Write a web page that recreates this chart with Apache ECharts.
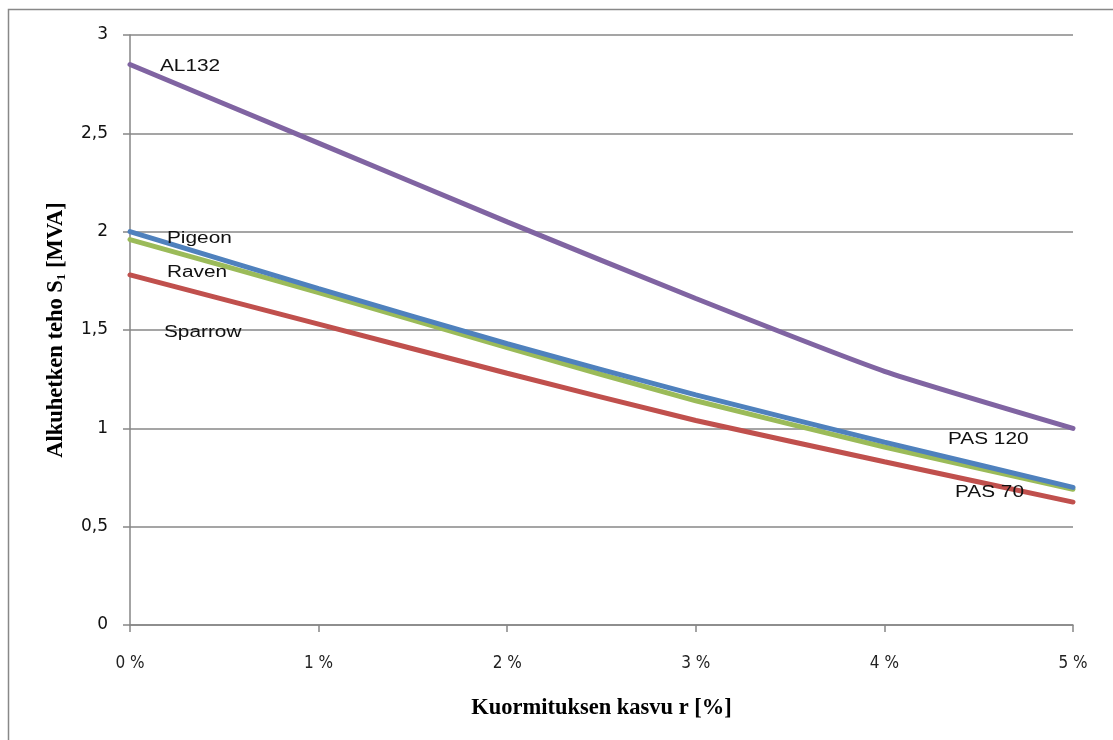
<!DOCTYPE html>
<html>
<head>
<meta charset="utf-8">
<script src="https://cdn.jsdelivr.net/npm/echarts@6/dist/echarts.min.js"></script>
<style>html,body{margin:0;padding:0;background:#fff}#c{width:1113px;height:740px}</style>
</head>
<body>
<div id="c"></div>
<script>
const categories = ['0 %', '1 %', '2 %', '3 %', '4 %', '5 %'];
const al132 = [2.85, 2.45, 2.05, 1.66, 1.29, 1.00];
const pigeon = [2.00, 1.71, 1.43, 1.17, 0.93, 0.70];
const raven = [1.96, 1.69, 1.41, 1.14, 0.905, 0.69];
const sparrow = [1.78, 1.53, 1.28, 1.04, 0.83, 0.625];
const yTicks = [0, 0.5, 1, 1.5, 2, 2.5, 3];

const chart = echarts.init(document.getElementById('c'));
const lineSeries = (name, data, color) => ({
  name, type: 'line', data, smooth: 0.15, symbol: 'none',
  lineStyle: { color, width: 5, cap: 'round' }, z: 3
});
const label = (text, x, y) => ({
  type: 'text', x, y, scaleX: 1.3, z: 10, silent: true,
  style: { text, font: '16px "Liberation Sans"', fill: '#111', verticalAlign: 'middle', align: 'left' }
});
chart.setOption({
  animation: false,
  grid: { left: 130, right: 40, top: 35, bottom: 115 },
  xAxis: {
    type: 'category', data: categories, boundaryGap: false,
    axisLine: { lineStyle: { color: '#868686', width: 1.5 } },
    axisTick: { show: true, length: 7, alignWithLabel: true, lineStyle: { color: '#868686', width: 1.5 } },
    axisLabel: { color: '#222', fontFamily: 'DejaVu Sans Condensed, Liberation Sans', fontSize: 17, margin: 30 },
    name: 'Kuormituksen kasvu r [%]', nameLocation: 'middle', nameGap: 72,
    nameTextStyle: { fontFamily: 'Liberation Serif', fontWeight: 'bold', fontSize: 22.5, color: '#000' }
  },
  yAxis: {
    type: 'value', min: yTicks[0], max: yTicks[yTicks.length - 1], interval: 0.5,
    axisLine: { show: true, lineStyle: { color: '#868686', width: 1.5 } },
    axisTick: { show: true, length: 7, lineStyle: { color: '#868686', width: 1.5 } },
    splitLine: { lineStyle: { color: '#878787', width: 1.5 } },
    axisLabel: { color: '#111', fontFamily: 'DejaVu Sans', fontSize: 17, margin: 22,
      formatter: v => String(v).replace('.', ',') },
    name: 'Alkuhetken teho S{s|1} [MVA]', nameLocation: 'middle', nameGap: 62,
    nameTextStyle: { fontFamily: 'Liberation Serif', fontWeight: 'bold', fontSize: 22.5, color: '#000',
      rich: { s: { fontFamily: 'Liberation Serif', fontWeight: 'bold', fontSize: 13, color: '#000', verticalAlign: 'bottom', padding: [8, 0, 0, 0] } } }
  },
  series: [
    lineSeries('Sparrow', sparrow, '#C0504D'),
    lineSeries('Raven', raven, '#9BBB59'),
    lineSeries('Pigeon', pigeon, '#4F81BD'),
    lineSeries('AL132', al132, '#8064A2')
  ],
  graphic: [
    { type: 'rect', shape: { x: 8.5, y: 9.5, width: 1110, height: 740 }, style: { fill: 'none', stroke: '#888', lineWidth: 1.5 }, silent: true },
    label('AL132', 160, 67),
    label('Pigeon', 167, 239),
    label('Raven', 167, 273),
    label('Sparrow', 164, 333),
    label('PAS 120', 948, 440),
    label('PAS 70', 955, 493)
  ]
});
</script>
</body>
</html>
